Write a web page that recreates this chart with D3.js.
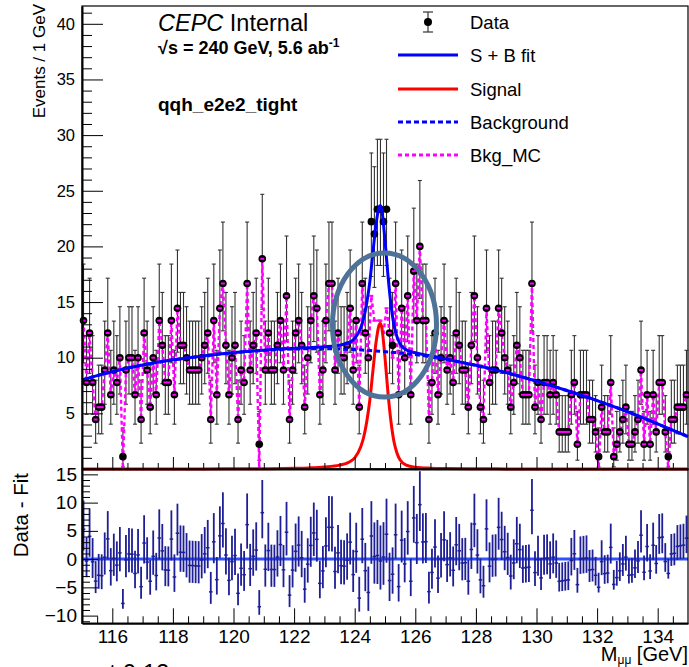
<!DOCTYPE html>
<html>
<head>
<meta charset="utf-8">
<script src="https://cdn.jsdelivr.net/npm/d3@7"></script>
<style>
  html, body { margin: 0; padding: 0; background: #fff; }
  svg { display: block; font-family: "Liberation Sans", Arial, Helvetica, sans-serif; }
</style>
</head>
<body>
<svg id="chart" width="689" height="667"></svg>
<script>
// Binning
const xMin = 115, xMax = 135, binWidth = 0.1;
const eventWeight = 10 / 9;

// Data counts per 0.1 GeV bin (weighted by eventWeight when drawn)
const dataCounts = [
  12, 7, 11, 7, 4, 5, 5, 8, 11, 6, 8, 7, 9, 1, 8, 9, 9, 6, 9, 4,
  11, 8, 5, 9, 6, 12, 10, 7, 7, 12, 6, 13, 10, 10, 9, 8, 8, 8, 8, 9,
  10, 11, 4, 12, 6, 13, 15, 10, 6, 9, 10, 4, 8, 7, 15, 8, 10, 11, 2, 17,
  8, 11, 8, 8, 10, 12, 8, 14, 4, 8, 11, 12, 10, 5, 9, 12, 14, 13, 6, 8,
  12, 15, 15, 8, 11, 9, 9, 10, 13, 8, 12, 5, 15, 11, 9, 20, 19, 21, 21, 20,
  21, 11, 10, 15, 6, 13, 9, 14, 6, 16, 12, 18, 12, 12, 4, 7, 11, 6, 9, 12,
  8, 9, 7, 11, 10, 8, 8, 5, 10, 14, 9, 5, 4, 13, 7, 8, 8, 13, 11, 9,
  8, 5, 7, 10, 9, 6, 6, 6, 15, 5, 7, 4, 7, 7, 6, 7, 6, 3, 3, 3,
  3, 6, 7, 2, 6, 6, 6, 4, 4, 3, 1, 5, 3, 3, 7, 1, 2, 3, 4, 5,
  2, 2, 3, 4, 8, 2, 6, 2, 6, 3, 7, 7, 3, 1, 4, 4, 5, 5, 5, 6
];

// Background MC counts (same binning)
const bkgMcCounts = [
  12, 7, 11, 7, 4, 5, 5, 8, 11, 6, 8, 7, 9, 0, 8, 9, 9, 6, 9, 4,
  11, 8, 5, 9, 6, 12, 10, 7, 7, 12, 6, 13, 10, 10, 9, 8, 8, 8, 8, 9,
  10, 11, 4, 12, 6, 13, 15, 10, 6, 9, 10, 4, 8, 7, 15, 8, 10, 11, 0, 17,
  8, 11, 8, 8, 10, 12, 8, 14, 4, 8, 11, 12, 10, 5, 9, 12, 14, 13, 6, 8,
  12, 15, 15, 8, 11, 9, 9, 10, 13, 8, 12, 5, 15, 11, 9, 14, 12, 12, 12, 11,
  13, 11, 9, 15, 6, 13, 9, 14, 6, 16, 12, 18, 12, 12, 4, 7, 11, 6, 9, 12,
  8, 9, 7, 11, 10, 8, 8, 5, 10, 14, 9, 5, 4, 13, 7, 8, 8, 13, 11, 9,
  8, 5, 7, 10, 9, 6, 6, 6, 15, 5, 7, 4, 7, 7, 6, 7, 6, 3, 3, 3,
  3, 6, 7, 2, 6, 6, 6, 4, 4, 3, 0, 5, 3, 3, 7, 1, 2, 3, 4, 5,
  2, 2, 3, 4, 8, 2, 6, 2, 6, 3, 7, 7, 3, 0, 4, 4, 5, 5, 5, 6
];

// Fit curves
const fitX = [115, 116, 117, 118, 119, 120, 121, 122, 122.5, 123, 123.5, 123.8,
  124.0, 124.2, 124.3, 124.4, 124.5, 124.6, 124.7, 124.8, 124.85, 124.9,
  125.0, 125.1, 125.2, 125.3, 125.4, 125.5, 125.7, 126.0, 126.5, 127,
  128, 129, 130, 131, 132, 133, 134, 135];
const bkgFit = [8.0, 8.75, 9.35, 9.8, 10.15, 10.45, 10.65, 10.78, 10.8, 10.8, 10.78, 10.75,
  10.73, 10.7, 10.68, 10.66, 10.64, 10.62, 10.6, 10.58, 10.57, 10.56,
  10.54, 10.52, 10.5, 10.47, 10.45, 10.42, 10.37, 10.28, 10.1, 9.85,
  9.3, 8.65, 7.9, 7.05, 6.15, 5.15, 4.05, 2.9];
const sigFit = [0, 0, 0, 0.01, 0.01, 0.02, 0.03, 0.06, 0.1, 0.18, 0.35, 0.6,
  1.0, 2.0, 2.9, 4.3, 6.2, 8.8, 11.3, 12.9, 13.1, 12.6,
  10.0, 6.8, 4.2, 2.4, 1.4, 0.8, 0.35, 0.16, 0.07, 0.04,
  0.02, 0.01, 0, 0, 0, 0, 0, 0];

// Axis ticks
const topYTicks = [5, 10, 15, 20, 25, 30, 35, 40];
const resYTicks = [-10, -5, 0, 5, 10, 15];
const xTicks = [116, 118, 120, 122, 124, 126, 128, 130, 132, 134];
const legendLabels = ["Data", "S + B fit", "Signal", "Background", "Bkg_MC"];

// Colours
const COLORS = {
  data: "#000",
  errBar: "#333",
  fit: "#0000ff",
  signal: "#ff0000",
  mc: "#ff00ff",
  residual: "#1e1e96",
  zero: "#2f52ff",
  ellipse: "#4f7398"
};

const svg = d3.select("#chart");

// Layout (pixels)
const left = 82, right = 688;
const topPad = { top: 6, bottom: 469 };
const resPad = { top: 469, bottom: 623.3 };

const x = d3.scaleLinear().domain([xMin, xMax]).range([left, right]);
const yTop = d3.scaleLinear().domain([0, 41.6]).range([topPad.bottom, topPad.top]);
const yRes = d3.scaleLinear().domain([-11.36, 15.95]).range([resPad.bottom, resPad.top]);

// Derived points
function poissonErr(n) {
  const lo = n > 0 ? n - n * Math.pow(1 - 1 / (9 * n) - 1 / (3 * Math.sqrt(n)), 3) : 0;
  const hi = Math.sqrt(n + 0.75) + 1;
  return [lo * eventWeight, hi * eventWeight];
}
const sbFit = fitX.map((_, i) => bkgFit[i] + sigFit[i]);
const sbAt = d3.scaleLinear().domain(fitX).range(sbFit);

const points = dataCounts.map((n, i) => {
  const cx = xMin + (i + 0.5) * binWidth;
  const v = n * eventWeight;
  const [lo, hi] = poissonErr(n);
  return { x: cx, v, lo, hi, mc: bkgMcCounts[i] * eventWeight, res: v - sbAt(cx) };
});

// ---------- Top panel ----------
const mainPanel = svg.append("g");

// frame
mainPanel.append("rect")
  .attr("x", left).attr("y", topPad.top)
  .attr("width", right - left).attr("height", topPad.bottom - topPad.top)
  .attr("fill", "none").attr("stroke", "#000").attr("stroke-width", 1.2);

// data error bars
const eb = mainPanel.append("g").attr("stroke", COLORS.errBar).attr("stroke-width", 1.1);
points.forEach(p => {
  const px = x(p.x);
  eb.append("line").attr("x1", px).attr("x2", px)
    .attr("y1", yTop(p.v - p.lo)).attr("y2", yTop(p.v + p.hi));
  [p.v - p.lo, p.v + p.hi].forEach(e => {
    eb.append("line").attr("x1", px - 2).attr("x2", px + 2)
      .attr("y1", yTop(e)).attr("y2", yTop(e));
  });
});

// Bkg_MC dashed line
const mcLine = d3.line().x(p => x(p.x)).y(p => yTop(p.mc));
mainPanel.append("path").datum(points)
  .attr("d", mcLine)
  .attr("fill", "none").attr("stroke", COLORS.mc)
  .attr("stroke-width", 2.4).attr("stroke-dasharray", "4,3");

// data markers
mainPanel.append("g").selectAll("circle").data(points).join("circle")
  .attr("cx", p => x(p.x)).attr("cy", p => yTop(p.v))
  .attr("r", 3.8).attr("fill", COLORS.data);

// MC markers
mainPanel.append("g").selectAll("rect").data(points).join("rect")
  .attr("x", p => x(p.x) - 2).attr("y", p => yTop(p.mc) - 1)
  .attr("width", 4).attr("height", 2).attr("fill", COLORS.mc);

// fit curves
const fitPts = fitX.map((fx, i) => ({ x: fx, b: bkgFit[i], s: sigFit[i], sb: sbFit[i] }));
const curve = key => d3.line().curve(d3.curveMonotoneX).x(d => x(d.x)).y(d => yTop(d[key]));

mainPanel.append("path").datum(fitPts).attr("d", curve("s"))
  .attr("fill", "none").attr("stroke", COLORS.signal).attr("stroke-width", 3);
mainPanel.append("path").datum(fitPts).attr("d", curve("b"))
  .attr("fill", "none").attr("stroke", COLORS.fit).attr("stroke-width", 3)
  .attr("stroke-dasharray", "5,3");
mainPanel.append("path").datum(fitPts).attr("d", curve("sb"))
  .attr("fill", "none").attr("stroke", COLORS.fit).attr("stroke-width", 3);

// axes (ticks point inwards)
const minorY = d3.range(1, 42, 1).filter(v => v % 5 !== 0);
mainPanel.append("g").attr("transform", `translate(${left},0)`)
  .call(d3.axisLeft(yTop).tickValues(minorY).tickSizeInner(-10).tickSizeOuter(0).tickFormat(""))
  .call(g => g.select(".domain").remove());
mainPanel.append("g").attr("transform", `translate(${left},0)`)
  .call(d3.axisLeft(yTop).tickValues(topYTicks).tickSizeInner(-21).tickSizeOuter(0).tickPadding(7))
  .call(g => g.select(".domain").attr("stroke-width", 2))
  .call(g => g.selectAll("text").attr("font-size", 16.5).attr("fill", "#000"));

const minorX = d3.range(115.5, 135, 0.5).filter(v => Math.abs(v % 2) > 0.01);
mainPanel.append("g").attr("transform", `translate(0,${topPad.bottom})`)
  .call(d3.axisBottom(x).tickValues(minorX).tickSizeInner(-6).tickSizeOuter(0).tickFormat(""))
  .call(g => g.select(".domain").remove());
mainPanel.append("g").attr("transform", `translate(0,${topPad.bottom})`)
  .call(d3.axisBottom(x).tickValues(xTicks).tickSizeInner(-12).tickSizeOuter(0).tickFormat(""))
  .call(g => g.select(".domain").attr("stroke-width", 2));

// axis title
svg.append("text")
  .attr("transform", "translate(45,4) rotate(-90)")
  .attr("text-anchor", "end").attr("font-size", 17)
  .text("Events / 1 GeV");

// labels
const lab = svg.append("g");
const cepc = lab.append("text").attr("x", 158).attr("y", 31).attr("font-size", 23.5);
cepc.append("tspan").attr("font-style", "italic").text("CEPC");
cepc.append("tspan").text(" Internal");
const sq = lab.append("text").attr("x", 158).attr("y", 54)
  .attr("font-size", 18).attr("font-weight", "bold");
sq.append("tspan").text("√s = 240 GeV, 5.6 ab");
sq.append("tspan").attr("dy", -7).attr("font-size", 12).text("-1");
lab.append("text").attr("x", 158).attr("y", 111)
  .attr("font-size", 19).attr("font-weight", "bold").text("qqh_e2e2_tight");

// legend
const legendY = [22, 55, 89, 122, 155];
const lg = svg.append("g");
legendLabels.forEach((t, i) => {
  lg.append("text").attr("x", 470).attr("y", legendY[i] + 6.5)
    .attr("font-size", 18.5).text(t);
});
lg.append("line").attr("x1", 428).attr("x2", 428).attr("y1", 12).attr("y2", 32)
  .attr("stroke", COLORS.errBar).attr("stroke-width", 1.2);
[12, 32].forEach(yy => lg.append("line").attr("x1", 423).attr("x2", 433)
  .attr("y1", yy).attr("y2", yy).attr("stroke", COLORS.errBar).attr("stroke-width", 1.2));
lg.append("circle").attr("cx", 428).attr("cy", 22).attr("r", 4).attr("fill", COLORS.data);
const legendLine = (yy, color, dash) => lg.append("line")
  .attr("x1", 398).attr("x2", 458).attr("y1", yy).attr("y2", yy)
  .attr("stroke", color).attr("stroke-width", 3).attr("stroke-dasharray", dash);
legendLine(legendY[1], COLORS.fit, null);
legendLine(legendY[2], COLORS.signal, null);
legendLine(legendY[3], COLORS.fit, "5,3");
legendLine(legendY[4], COLORS.mc, "4,3");

// annotation ellipse around the peak
svg.append("ellipse")
  .attr("cx", 384.5).attr("cy", 325).attr("rx", 52).attr("ry", 72)
  .attr("fill", "none").attr("stroke", COLORS.ellipse).attr("stroke-width", 5);

// ---------- Residual panel ----------
const resPanel = svg.append("g");

resPanel.append("line").attr("x1", left).attr("x2", right)
  .attr("y1", yRes(0)).attr("y2", yRes(0))
  .attr("stroke", COLORS.zero).attr("stroke-width", 3);

const rb = resPanel.append("g").attr("stroke", COLORS.residual);
points.forEach(p => {
  const px = x(p.x);
  rb.append("line").attr("x1", px).attr("x2", px)
    .attr("y1", yRes(p.res - p.lo)).attr("y2", yRes(p.res + p.hi))
    .attr("stroke-width", 1.8);
  rb.append("line").attr("x1", px - 1.8).attr("x2", px + 1.8)
    .attr("y1", yRes(p.res)).attr("y2", yRes(p.res))
    .attr("stroke-width", 1.5);
});

// frame
resPanel.append("rect")
  .attr("x", left).attr("y", resPad.top)
  .attr("width", right - left).attr("height", resPad.bottom - resPad.top)
  .attr("fill", "none").attr("stroke", "#000").attr("stroke-width", 1.2);

const minorR = d3.range(-11, 16, 1).filter(v => v % 5 !== 0);
resPanel.append("g").attr("transform", `translate(${left},0)`)
  .call(d3.axisLeft(yRes).tickValues(minorR).tickSizeInner(-8).tickSizeOuter(0).tickFormat(""))
  .call(g => g.select(".domain").remove());
resPanel.append("g").attr("transform", `translate(${left},0)`)
  .call(d3.axisLeft(yRes).tickValues(resYTicks).tickSizeInner(-16).tickSizeOuter(0).tickPadding(5)
    .tickFormat(d => d < 0 ? "\u2212" + Math.abs(d) : d))
  .call(g => g.select(".domain").attr("stroke-width", 2))
  .call(g => g.selectAll("text").attr("font-size", 19).attr("fill", "#000"));

resPanel.append("g").attr("transform", `translate(0,${resPad.bottom})`)
  .call(d3.axisBottom(x).tickValues(minorX).tickSizeInner(-7).tickSizeOuter(0).tickFormat(""))
  .call(g => g.select(".domain").remove());
resPanel.append("g").attr("transform", `translate(0,${resPad.bottom})`)
  .call(d3.axisBottom(x).tickValues(xTicks).tickSizeInner(-15).tickSizeOuter(0).tickPadding(6))
  .call(g => g.select(".domain").attr("stroke-width", 2))
  .call(g => g.selectAll("text").attr("font-size", 19).attr("fill", "#000"));

svg.append("text")
  .attr("transform", "translate(28,473) rotate(-90)")
  .attr("text-anchor", "end").attr("font-size", 20.5)
  .text("Data - Fit");

// x title
const xt = svg.append("text").attr("x", 688).attr("y", 661)
  .attr("text-anchor", "end").attr("font-size", 20);
xt.append("tspan").text("M");
xt.append("tspan").attr("dy", 3).attr("font-size", 12).text("μμ");
xt.append("tspan").attr("dy", -3).text(" [GeV]");

// text cut by the bottom edge (as in the original image)
svg.append("text").attr("x", 96).attr("y", 681).attr("font-size", 24).text("at 0.12");
</script>
</body>
</html>
